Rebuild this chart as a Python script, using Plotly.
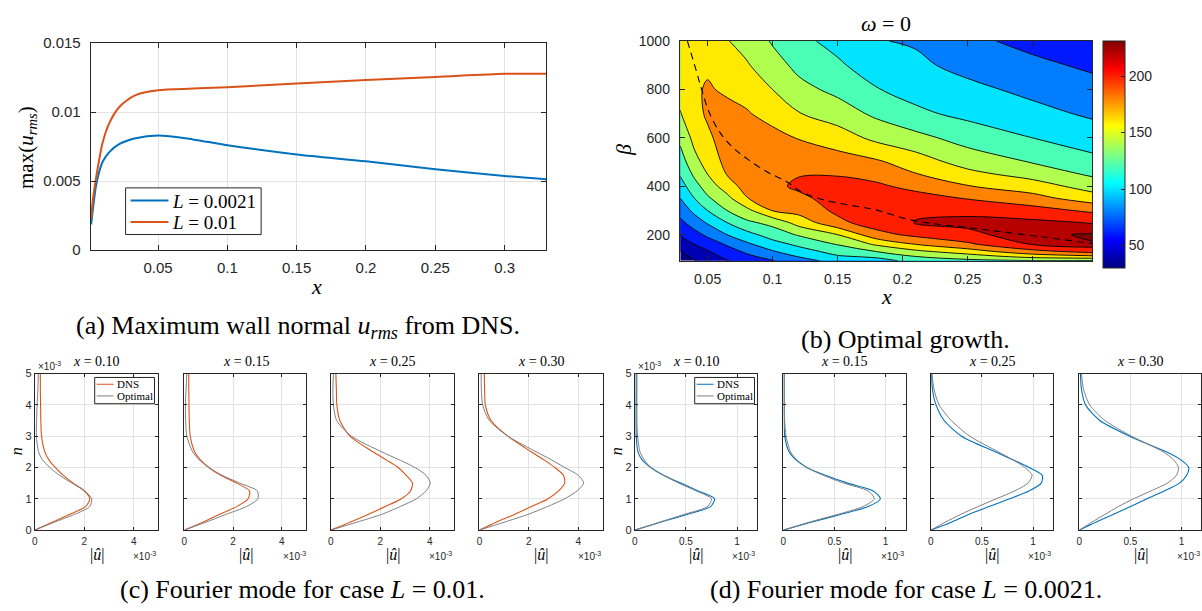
import plotly.graph_objects as go

W, H = 1202, 611
SANS = "Liberation Sans, Arial, sans-serif"
SERIF = "Liberation Serif, Times New Roman, serif"
INK = "#262626"
GRID = "#e3e3e3"
BLUE = "#0072BD"
ORANGE = "#D95319"
GRAY = "#7f7f7f"


def fx(p):
    return p / W


def fy(p):
    return 1 - p / H


# ---------------- (a) maximum wall-normal u_rms from DNS ----------------
x_dns = [0.0017, 0.0029, 0.0052, 0.0076, 0.0100, 0.0148, 0.0219, 0.0338,
         0.050, 0.075, 0.100, 0.150, 0.200, 0.250, 0.300, 0.330]
urms_L0021 = [0.00186, 0.0029, 0.00465, 0.0057, 0.0064, 0.0071, 0.00767, 0.0081,
              0.0083, 0.00802, 0.0076, 0.00693, 0.00643, 0.00585, 0.00537, 0.00514]
urms_L001 = [0.0023, 0.0036, 0.0052, 0.0066, 0.0078, 0.0092, 0.01035, 0.01123,
             0.01158, 0.0117, 0.0118, 0.01207, 0.01233, 0.01254, 0.01277, 0.01277]
case_labels = ["<i>L</i> = 0.0021", "<i>L</i> = 0.01"]

# ---------------- (b) optimal growth, omega = 0 ----------------
x_grid = [0.029, 0.04, 0.05, 0.065, 0.08, 0.1, 0.12, 0.15, 0.18, 0.21, 0.25, 0.3, 0.346]
beta_grid = [92, 110, 130, 160, 200, 250, 300, 350, 400, 450, 500, 600, 700, 800, 900, 1000]
# growth along beta, one list per x station
growth_by_x = [
    [30, 33, 39, 49, 62, 75, 88, 100, 111, 122, 130, 145, 159, 166, 170, 173],
    [39, 45, 51, 60, 73, 90, 105, 120, 133, 144, 154, 166, 173, 177, 178, 177],
    [45, 52, 58, 69, 84, 102, 120, 137, 149, 160, 167, 176, 183, 182, 177, 171],
    [59, 65, 72, 82, 100, 120, 140, 154, 170, 181, 186, 190, 186, 177, 168, 161],
    [70, 76, 83, 96, 113, 136, 154, 179, 188, 193, 195, 191, 182, 172, 162, 153],
    [79, 87, 98, 112, 129, 146, 181, 190, 196, 199, 198, 187, 172, 160, 148, 138],
    [93, 101, 111, 124, 142, 168, 187, 196, 203, 199, 193, 179, 161, 146, 135, 125],
    [106, 118, 127, 141, 160, 195, 204, 207, 205, 199, 189, 170, 150, 135, 123, 114],
    [114, 123, 140, 163, 193, 210, 214, 212, 203, 194, 183, 155, 136, 121, 110, 101],
    [125, 140, 155, 180, 205, 221, 216, 207, 195, 181, 170, 146, 124, 113, 104, 98],
    [135, 150, 170, 196, 216, 224, 216, 199, 181, 166, 152, 132, 115, 105, 94, 84],
    [138, 168, 193, 221, 228, 224, 208, 187, 170, 152, 139, 120, 106, 95, 84, 75],
    [137, 176, 206, 229, 230, 219, 196, 170, 151, 137, 126, 110, 97, 86, 77, 70],
]
growth_min, growth_max = 30, 231
level_start, level_end, level_step = 40, 220, 20
peak_level = 229.3
x_opt = [0.0345, 0.041, 0.046, 0.051, 0.0587, 0.0689, 0.0816, 0.0969, 0.1097,
         0.1225, 0.140, 0.1583, 0.179, 0.208, 0.259, 0.310, 0.346]
beta_opt = [1000, 883, 790, 709, 629, 563, 509, 456, 423, 376, 343, 323, 303,
            259, 223, 189, 163]

# ---------------- (c), (d) Fourier mode profiles (|u| in 1e-3) ----------------
n_wall = [0, 0.25, 0.5, 0.75, 1.0, 1.25, 1.5, 1.75, 2.0, 2.25, 2.5, 3.0, 3.5, 4.0, 4.5, 5.0]
stations = ["0.10", "0.15", "0.25", "0.30"]
uhat_dns_L001 = [
    [0, 0.70, 1.40, 2.05, 2.22, 2.00, 1.55, 1.15, 0.82, 0.56, 0.40, 0.27, 0.24, 0.23, 0.22, 0.22],
    [0, 0.75, 1.43, 2.15, 2.62, 2.68, 2.15, 1.50, 1.00, 0.65, 0.42, 0.24, 0.20, 0.19, 0.18, 0.18],
    [0, 0.77, 1.50, 2.20, 2.85, 3.22, 3.30, 3.05, 2.72, 2.22, 1.70, 0.77, 0.36, 0.24, 0.22, 0.20],
    [0, 0.68, 1.42, 2.10, 2.78, 3.20, 3.45, 3.40, 3.05, 2.60, 2.10, 1.15, 0.47, 0.24, 0.21, 0.20],
]
uhat_opt_L001 = [
    [0, 0.78, 1.60, 2.22, 2.30, 2.02, 1.50, 1.00, 0.60, 0.30, 0.15, 0.06, 0.07, 0.09, 0.12, 0.14],
    [0, 0.88, 1.70, 2.55, 3.02, 3.00, 2.28, 1.55, 1.00, 0.60, 0.34, 0.10, 0.05, 0.04, 0.07, 0.10],
    [0, 1.04, 2.05, 2.80, 3.46, 3.85, 4.02, 3.85, 3.40, 2.75, 2.05, 0.83, 0.23, 0.10, 0.08, 0.10],
    [0, 1.00, 1.96, 2.75, 3.45, 3.95, 4.22, 4.00, 3.45, 2.90, 2.30, 1.15, 0.40, 0.13, 0.08, 0.07],
]
uhat_dns_L0021 = [
    [0, 0.25, 0.51, 0.74, 0.78, 0.62, 0.45, 0.28, 0.155, 0.07, 0.03, 0.013, 0.012, 0.012, 0.013, 0.013],
    [0, 0.27, 0.56, 0.83, 0.95, 0.88, 0.63, 0.41, 0.23, 0.12, 0.055, 0.013, 0.008, 0.007, 0.007, 0.007],
    [0, 0.20, 0.37, 0.57, 0.77, 0.96, 1.08, 1.09, 0.96, 0.80, 0.63, 0.30, 0.13, 0.05, 0.015, 0.007],
    [0, 0.16, 0.33, 0.50, 0.66, 0.83, 0.98, 1.05, 1.07, 0.99, 0.85, 0.49, 0.20, 0.06, 0.02, 0.01],
]
uhat_opt_L0021 = [
    [0, 0.24, 0.48, 0.71, 0.75, 0.60, 0.43, 0.28, 0.155, 0.09, 0.05, 0.026, 0.02, 0.02, 0.02, 0.02],
    [0, 0.25, 0.53, 0.78, 0.89, 0.83, 0.59, 0.39, 0.23, 0.13, 0.07, 0.026, 0.012, 0.008, 0.008, 0.008],
    [0, 0.14, 0.29, 0.46, 0.64, 0.82, 0.95, 0.99, 0.92, 0.80, 0.66, 0.38, 0.20, 0.08, 0.03, 0.01],
    [0, 0.12, 0.25, 0.38, 0.53, 0.70, 0.86, 0.95, 0.97, 0.92, 0.82, 0.51, 0.25, 0.10, 0.04, 0.02],
]


def jet(f):
    f = min(max(f, 0.0), 1.0)
    r = min(max(1.5 - abs(4 * f - 3), 0), 1)
    g = min(max(1.5 - abs(4 * f - 2), 0), 1)
    b = min(max(1.5 - abs(4 * f - 1), 0), 1)
    return "rgb(%d,%d,%d)" % (round(255 * r), round(255 * g), round(255 * b))


fig = go.Figure()
annotations = []
shapes = []

# ---- (a) ----
for yv, col in ((urms_L0021, BLUE), (urms_L001, ORANGE)):
    fig.add_trace(go.Scatter(x=x_dns, y=yv, mode="lines",
                             line=dict(color=col, width=2, shape="spline", smoothing=0.8),
                             xaxis="x", yaxis="y", showlegend=False, hoverinfo="skip"))

# legend box for (a)
shapes.append(dict(type="rect", xref="paper", yref="paper", x0=fx(123), x1=fx(259),
                   y0=fy(232), y1=fy(184), line=dict(color=INK, width=1),
                   fillcolor="white", layer="above"))
for row_y, col, lab in ((197, BLUE, case_labels[0]), (219, ORANGE, case_labels[1])):
    shapes.append(dict(type="line", xref="paper", yref="paper", x0=fx(128), x1=fx(166),
                       y0=fy(row_y), y1=fy(row_y), line=dict(color=col, width=2), layer="above"))
    annotations.append(dict(text=lab, x=fx(168), y=fy(row_y + 1), xanchor="left",
                            font=dict(family=SERIF, size=19, color="black")))

# ---- (b) filled contours, band colour taken at the lower level (jet) ----
z_growth = [[growth_by_x[j][i] for j in range(len(x_grid))] for i in range(len(beta_grid))]
band_lows = [growth_min] + list(range(level_start, level_end + 1, level_step))
nb = len(band_lows) - 1
band_scale = [[k / nb, jet((lo - growth_min) / (growth_max - growth_min))]
              for k, lo in enumerate(band_lows)]
fig.add_trace(go.Contour(x=x_grid, y=beta_grid, z=z_growth, xaxis="x2", yaxis="y2",
                         autocontour=False,
                         contours=dict(start=level_start, end=level_end, size=level_step,
                                       coloring="fill", showlines=True),
                         colorscale=band_scale, showscale=False,
                         line=dict(color="black", width=0.9), hoverinfo="skip"))
fig.add_trace(go.Contour(x=x_grid, y=beta_grid, z=z_growth, xaxis="x2", yaxis="y2",
                         autocontour=False,
                         contours=dict(start=peak_level, end=peak_level, size=1,
                                       coloring="fill", showlines=True),
                         colorscale=[[0, "rgba(0,0,0,0)"], [0.5, "rgba(0,0,0,0)"],
                                     [0.5, "rgb(128,0,0)"], [1, "rgb(128,0,0)"]],
                         showscale=False, line=dict(color="black", width=0.9),
                         hoverinfo="skip"))
fig.add_trace(go.Scatter(x=x_opt, y=beta_opt, mode="lines", xaxis="x2", yaxis="y2",
                         line=dict(color="black", width=1.1, dash="7px,5px", shape="spline"),
                         showlegend=False, hoverinfo="skip"))
jet_cont = [[i / 32, jet(i / 32)] for i in range(33)]
fig.add_trace(go.Scatter(x=[0.2, 0.2], y=[500, 500], mode="markers", xaxis="x2", yaxis="y2",
                         marker=dict(size=1, opacity=0, color=[growth_min, growth_max],
                                     cmin=growth_min, cmax=growth_max, colorscale=jet_cont,
                                     showscale=True,
                                     colorbar=dict(x=fx(1104), xanchor="left", xpad=0,
                                                   y=fy(33), yanchor="top", ypad=0,
                                                   len=227, lenmode="pixels",
                                                   thickness=22, thicknessmode="pixels",
                                                   outlinecolor=INK, outlinewidth=1,
                                                   tickvals=[50, 100, 150, 200],
                                                   ticks="inside", ticklen=4, tickcolor=INK,
                                                   tickfont=dict(family=SANS, size=14, color=INK))),
                         showlegend=False, hoverinfo="skip"))

# ---- (c), (d) small profile panels ----
lefts = [32, 182, 329, 478, 634, 783, 931, 1080]
rights = [156, 304, 453, 602, 757, 906, 1054, 1202]
p_top, p_bot = 375, 536
layout_axes = {}

for k in range(8):
    ax = k + 3
    case_c = k < 4
    s = k % 4
    dns = (uhat_dns_L001 if case_c else uhat_dns_L0021)[s]
    opt = (uhat_opt_L001 if case_c else uhat_opt_L0021)[s]
    col = ORANGE if case_c else BLUE
    xmax = 5.0 if case_c else 1.2
    full_w = 124 if case_c else 123
    xr = xmax * (rights[k] - lefts[k]) / full_w if k == 7 else xmax
    fig.add_trace(go.Scatter(x=dns, y=n_wall, mode="lines", xaxis="x%d" % ax, yaxis="y%d" % ax,
                             line=dict(color=col, width=1.1, shape="spline", smoothing=0.7),
                             showlegend=False, hoverinfo="skip"))
    fig.add_trace(go.Scatter(x=opt, y=n_wall, mode="lines", xaxis="x%d" % ax, yaxis="y%d" % ax,
                             line=dict(color=GRAY, width=1.0, shape="spline", smoothing=0.7),
                             showlegend=False, hoverinfo="skip"))
    layout_axes["xaxis%d" % ax] = dict(
        domain=[fx(lefts[k]), fx(rights[k])], anchor="y%d" % ax, range=[0, xr],
        tickvals=[0, 2, 4] if case_c else [0, 0.5, 1],
        ticktext=["0", "2", "4"] if case_c else ["0", "0.5", "1"],
        showgrid=True, gridcolor=GRID, zeroline=False, showline=True, linecolor=INK,
        linewidth=1, mirror="ticks" if k != 7 else True, ticks="inside", ticklen=3,
        tickcolor=INK, ticklabelstandoff=2, tickfont=dict(family=SANS, size=10, color=INK))
    layout_axes["yaxis%d" % ax] = dict(
        domain=[fy(p_bot), fy(p_top)], anchor="x%d" % ax, range=[0, 5],
        tickvals=[0, 1, 2, 3, 4, 5], showticklabels=(s == 0),
        showgrid=True, gridcolor=GRID, zeroline=False, showline=True, linecolor=INK,
        linewidth=1, mirror="ticks", ticks="inside", ticklen=3, tickcolor=INK,
        tickfont=dict(family=SANS, size=11, color=INK))
    cx = (lefts[k] + (lefts[k] + full_w)) / 2
    annotations.append(dict(text="<i>x</i> = %s" % stations[s], x=fx(cx), y=fy(363),
                            font=dict(family=SERIF, size=14, color="black")))
    annotations.append(dict(text="|<i>û</i>|", x=fx(cx), y=fy(562),
                            font=dict(family=SERIF, size=16, color="black")))
    annotations.append(dict(text="×10<sup>-3</sup>", x=fx(lefts[k] + full_w), y=fy(563),
                            xanchor="right", font=dict(family=SANS, size=10, color=INK)))
    if s == 0:
        annotations.append(dict(text="×10<sup>-3</sup>", x=fx(lefts[k] + 1), y=fy(367),
                                xanchor="left", font=dict(family=SANS, size=10, color=INK)))
        annotations.append(dict(text="<i>n</i>", x=fx(lefts[k] - 19), y=fy(455), textangle=-90,
                                font=dict(family=SERIF, size=16, color="black")))
        # legend box drawn inside the first panel of each case
        bx0, bx1 = lefts[k] + 60, lefts[k] + 120
        by0, by1 = 379, 406
        shapes.append(dict(type="rect", xref="paper", yref="paper", x0=fx(bx0), x1=fx(bx1),
                           y0=fy(by1), y1=fy(by0), line=dict(color=INK, width=1),
                           fillcolor="white", layer="above"))
        for row_y, c, lab in ((386, col, "DNS"), (398, GRAY, "Optimal")):
            shapes.append(dict(type="line", xref="paper", yref="paper", x0=fx(bx0 + 2),
                               x1=fx(bx0 + 19), y0=fy(row_y), y1=fy(row_y),
                               line=dict(color=c, width=1), layer="above"))
            annotations.append(dict(text=lab, x=fx(bx0 + 20), y=fy(row_y), xanchor="left",
                                    font=dict(family=SERIF, size=11, color="black")))

# ---- texts for (a) and (b) ----
annotations += [
    dict(text="max(<i>u</i><sub><i>rms</i></sub>)", x=fx(24), y=fy(142), textangle=-90,
         font=dict(family=SERIF, size=21, color="black")),
    dict(text="<i>x</i>", x=fx(315), y=fy(285), font=dict(family=SERIF, size=22, color="black")),
    dict(text="<i>ω</i> = 0", x=fx(886), y=fy(15), font=dict(family=SERIF, size=22, color="black")),
    dict(text="<i>β</i>", x=fx(623), y=fy(145), textangle=-90,
         font=dict(family=SERIF, size=22, color="black")),
    dict(text="<i>x</i>", x=fx(886), y=fy(296), font=dict(family=SERIF, size=22, color="black")),
    dict(text="(a) Maximum wall normal <i>u</i><sub><i>rms</i></sub> from DNS.", x=fx(296), y=fy(327),
         font=dict(family=SERIF, size=26, color="black")),
    dict(text="(b) Optimal growth.", x=fx(906), y=fy(340),
         font=dict(family=SERIF, size=26, color="black")),
    dict(text="(c) Fourier mode for case <i>L</i> = 0.01.", x=fx(300), y=fy(597),
         font=dict(family=SERIF, size=26, color="black")),
    dict(text="(d) Fourier mode for case <i>L</i> = 0.0021.", x=fx(906), y=fy(597),
         font=dict(family=SERIF, size=26, color="black")),
]
for a in annotations:
    a.setdefault("xref", "paper")
    a.setdefault("yref", "paper")
    a.setdefault("xanchor", "center")
    a.setdefault("yanchor", "middle")
    a.setdefault("showarrow", False)

axis_common = dict(showline=True, linecolor=INK, linewidth=1, mirror="ticks", ticks="inside",
                   ticklen=5, tickcolor=INK, zeroline=False)
tick15 = dict(family=SANS, size=15, color=INK)
tick14 = dict(family=SANS, size=14, color=INK)

fig.update_layout(
    width=W, height=H, margin=dict(l=0, r=0, t=0, b=0),
    paper_bgcolor="white", plot_bgcolor="white", showlegend=False,
    xaxis=dict(domain=[fx(88), fx(545)], anchor="y", range=[0.0014, 0.33],
               tickvals=[0.05, 0.1, 0.15, 0.2, 0.25, 0.3],
               ticktext=["0.05", "0.1", "0.15", "0.2", "0.25", "0.3"],
               showgrid=True, gridcolor=GRID, tickfont=tick15, ticklabelstandoff=4,
               **axis_common),
    yaxis=dict(domain=[fy(248), fy(35)], anchor="x", range=[0, 0.015],
               tickvals=[0, 0.005, 0.01, 0.015], ticktext=["0", "0.005", "0.01", "0.015"],
               showgrid=True, gridcolor=GRID, tickfont=tick15, ticklabelstandoff=6,
               **axis_common),
    xaxis2=dict(domain=[fx(679), fx(1093)], anchor="y2", range=[0.0286, 0.346],
                tickvals=[0.05, 0.1, 0.15, 0.2, 0.25, 0.3],
                ticktext=["0.05", "0.1", "0.15", "0.2", "0.25", "0.3"],
                showgrid=False, tickfont=tick14, ticklabelstandoff=5, **axis_common),
    yaxis2=dict(domain=[fy(259), fy(33)], anchor="x2", range=[92, 1000],
                tickvals=[200, 400, 600, 800, 1000],
                showgrid=False, tickfont=tick14, ticklabelstandoff=6, **axis_common),
    annotations=annotations, shapes=shapes,
    **layout_axes,
)

fig.write_html("out.html")
